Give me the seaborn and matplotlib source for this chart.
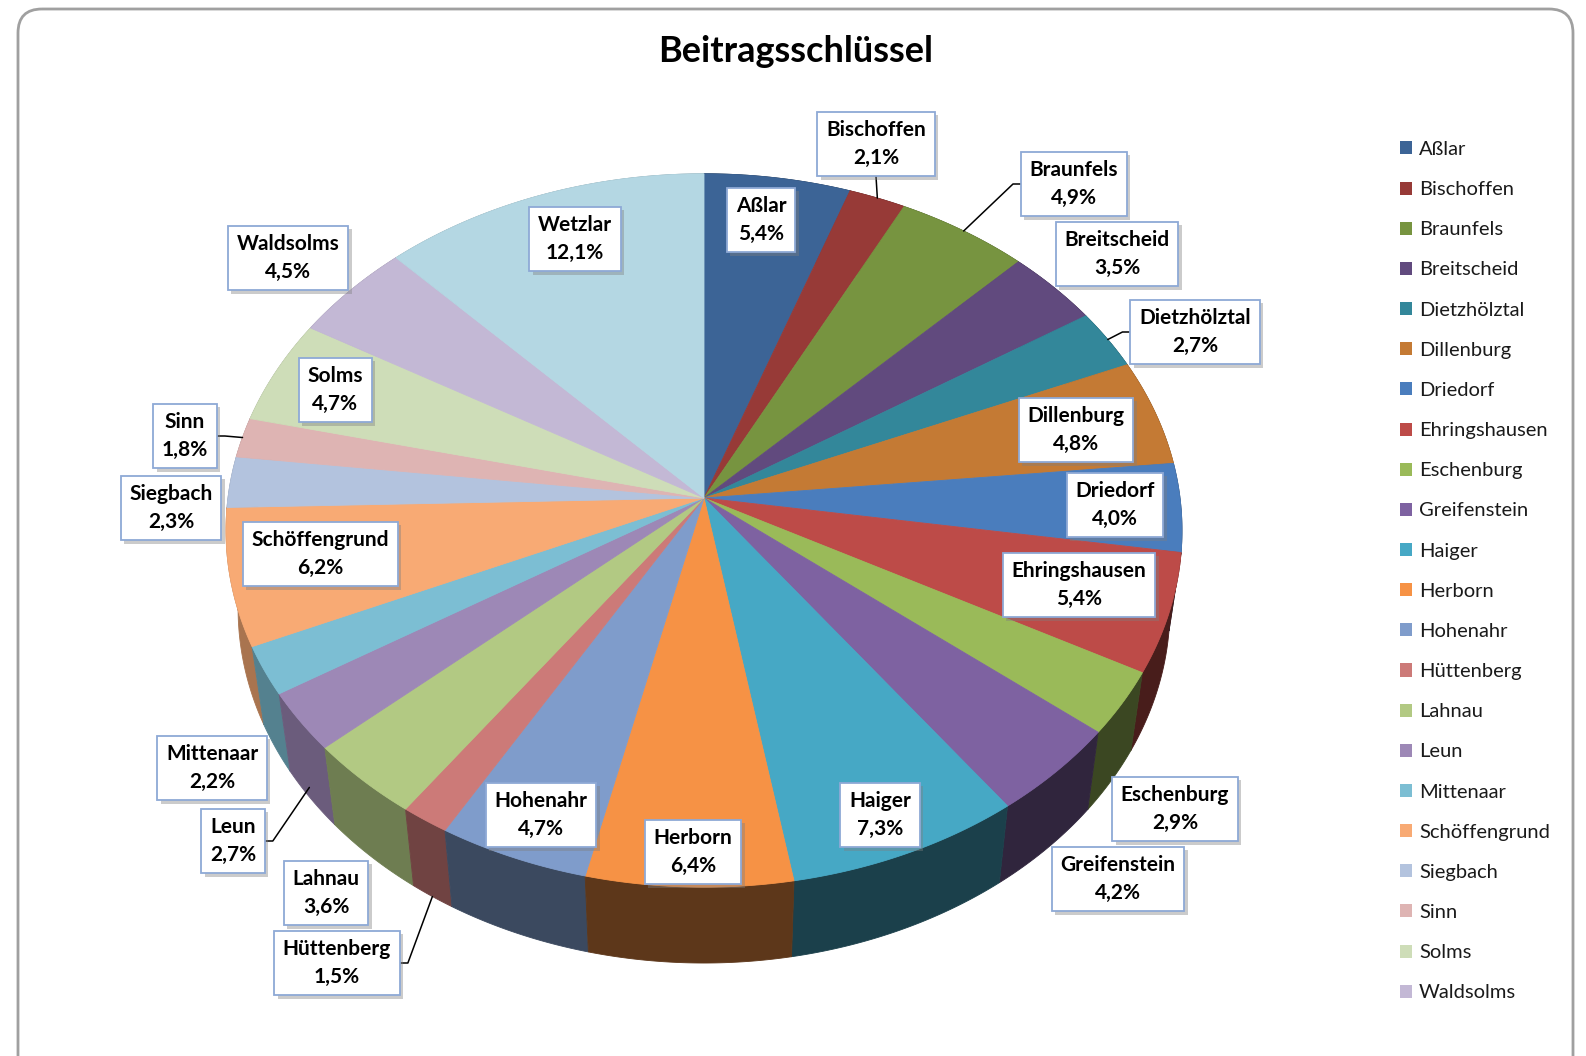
import numpy as np
import matplotlib
matplotlib.use("Agg")
import matplotlib.pyplot as plt
import matplotlib.patheffects as pe
from matplotlib.patches import FancyBboxPatch, Patch
import seaborn as sns

towns = ["Aßlar", "Bischoffen", "Braunfels", "Breitscheid", "Dietzhölztal", "Dillenburg",
         "Driedorf", "Ehringshausen", "Eschenburg", "Greifenstein", "Haiger", "Herborn",
         "Hohenahr", "Hüttenberg", "Lahnau", "Leun", "Mittenaar", "Schöffengrund",
         "Siegbach", "Sinn", "Solms", "Waldsolms", "Wetzlar"]
shares = [5.4, 2.1, 4.9, 3.5, 2.7, 4.8, 4.0, 5.4, 2.9, 4.2, 7.3, 6.4,
          4.7, 1.5, 3.6, 2.7, 2.2, 6.2, 2.3, 1.8, 4.7, 4.5, 12.1]
colors = ["#3C6496", "#973A37", "#779440", "#614A7E", "#33879A", "#C47A34",
          "#4A7DBD", "#BD4B48", "#9ABA59", "#7E62A1", "#46A8C5", "#F69245",
          "#7F9CCB", "#CC7A78", "#B2C983", "#9D88B6", "#7CBED3", "#F8AA74",
          "#B3C3DE", "#DEB4B3", "#CEDDB8", "#C3B8D5", "#B4D7E3"]
# the legend in the original stops before Wetzlar
legend_count = 22

# label box centres (pixels) and which ones get a leader line
label_pos = [(761, 220), (876, 144), (1074, 184), (1117, 254), (1195, 332), (1076, 430),
             (1115, 505), (1079, 585), (1175, 809), (1118, 879), (880, 815), (693, 852),
             (541, 815), (337, 963), (326, 893), (233, 841), (212, 768), (320, 554),
             (171, 508), (185, 436), (335, 390), (288, 258), (575, 239)]
leaders = {"Bischoffen": ("bottom", 0.0), "Braunfels": ("left", 0.0),
           "Dietzhölztal": ("left", 0.0), "Sinn": ("right", 0.0),
           "Leun": ("right", -0.85), "Hüttenberg": ("right", -1.0)}

sns.set_style("white")
plt.rcParams["font.family"] = ["Lato", "DejaVu Sans"]

fig = plt.figure(figsize=(15.86, 10.56), dpi=100)
ax = fig.add_axes([0, 0, 1, 1])
ax.set_xlim(0, 1586)
ax.set_ylim(1056, 0)
ax.axis("off")

# tilted disc seen in perspective
K, CX, CY = 476, 704, 498
TILT = np.radians(48)
DIST = 7.35
DEPTH = 0.254


def proj(phi, h=0.0):
    x, y = np.sin(phi), np.cos(phi)
    s, c = np.sin(TILT), np.cos(TILT)
    v = y * s + h * c
    f = DIST / (DIST + y * c - h * s)
    return CX + K * x * f, CY - K * v * f


vals = np.array(shares)
bounds = np.concatenate([[0], np.cumsum(vals)]) / vals.sum() * 2 * np.pi
mids = (bounds[:-1] + bounds[1:]) / 2

# side wall, back pieces first
for i in np.argsort(-np.cos(mids)):
    t = np.linspace(bounds[i], bounds[i + 1], 80)
    xt, yt = proj(t)
    xb, yb = proj(t, -DEPTH)
    deg = np.degrees(mids[i])
    light = 0.38 + 0.3 * np.clip((deg - 190) / 40, 0, 1)
    rgb = np.array(matplotlib.colors.to_rgb(colors[i])) * light
    ax.fill(np.r_[xt, xb[::-1]], np.r_[yt, yb[::-1]], color=rgb, lw=0.6, ec=rgb)

# top face
for i in range(len(towns)):
    t = np.linspace(bounds[i], bounds[i + 1], 80)
    xt, yt = proj(t)
    ax.fill(np.r_[CX, xt], np.r_[CY, yt], color=colors[i], lw=0.6, ec=colors[i])

# data labels
boxes = {}
for town, v, (lx, ly) in zip(towns, shares, label_pos):
    txt = ax.text(lx, ly, f"{town}\n{v:.1f}%".replace(".", ","), ha="center", va="center",
                  fontsize=15, fontweight="bold", linespacing=1.45, color="black",
                  bbox=dict(boxstyle="square,pad=0.42", fc="white", ec="#8EA9D6", lw=1.3),
                  zorder=5)
    txt.get_bbox_patch().set_path_effects(
        [pe.SimplePatchShadow(offset=(2.5, -2.5), shadow_rgbFace="#7F7F7F", alpha=0.4), pe.Normal()])
    boxes[town] = txt

fig.canvas.draw()
inv = ax.transData.inverted()
for town, (side, hfrac) in leaders.items():
    i = towns.index(town)
    ext = boxes[town].get_bbox_patch().get_window_extent()
    (x0, y0), (x1, y1) = inv.transform([[ext.x0, ext.y0], [ext.x1, ext.y1]])
    ex, ey = proj(mids[i], hfrac * DEPTH)
    if side == "bottom":
        xs, ys = [(x0 + x1) / 2, ex], [y0, ey]
    elif side == "left":
        ym = (y0 + y1) / 2
        xs, ys = [x0, x0 - 8, ex], [ym, ym, ey]
    else:
        ym = (y0 + y1) / 2
        xs, ys = [x1, x1 + 8, ex], [ym, ym, ey]
    ax.plot(xs, ys, color="black", lw=1.1, zorder=4)

ax.text(796, 51, "Beitragsschlüssel", ha="center", va="center", fontsize=26,
        fontweight="bold", color="black")

handles = [Patch(fc=c, ec="none") for c in colors[:legend_count]]
leg = ax.legend(handles, towns[:legend_count], loc="upper left", bbox_to_anchor=(1400, 141),
                bbox_transform=ax.transData, frameon=False, fontsize=14.5, handlelength=0.62,
                handleheight=0.62, handletextpad=0.32, labelspacing=1.15, borderpad=0,
                borderaxespad=0)
for t in leg.get_texts():
    t.set_color("#1A1A1A")

ax.add_patch(FancyBboxPatch((18, 9), 1555, 1100, boxstyle="round,pad=0,rounding_size=24",
                            fc="none", ec="#A0A0A0", lw=2))

fig.savefig("out.png", dpi=100, facecolor="white")
